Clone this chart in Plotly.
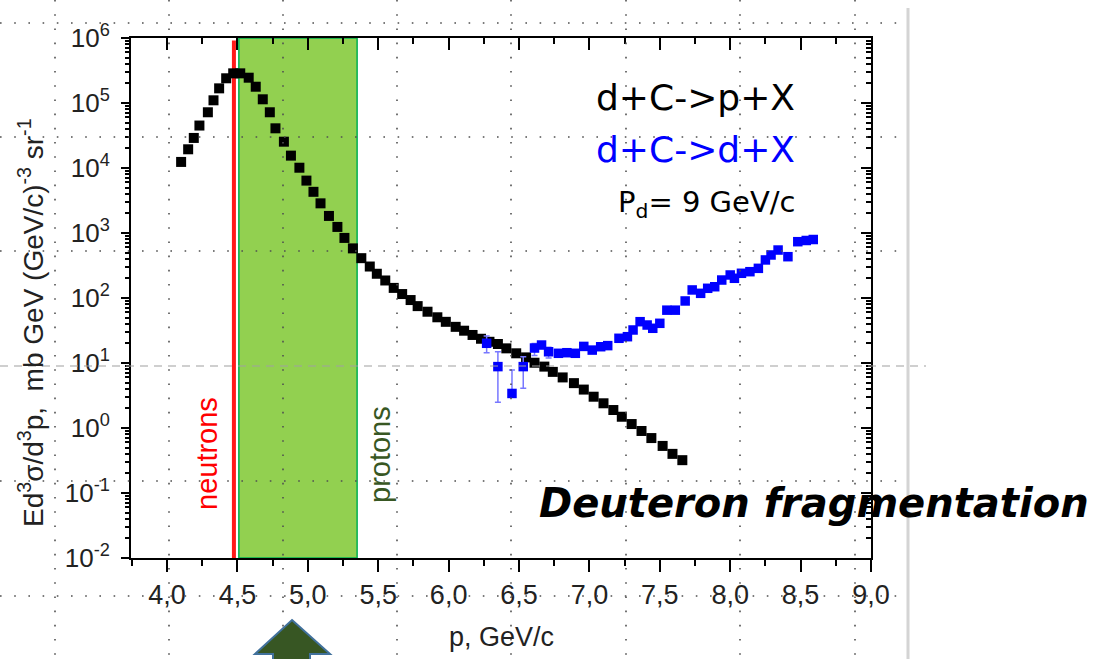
import numpy as np
import plotly.graph_objects as go

# ---------------- data ----------------
black_p = [4.10, 4.15, 4.19, 4.23, 4.29, 4.33, 4.37, 4.42, 4.47, 4.52, 4.58, 4.63, 4.68,
           4.73, 4.77, 4.83, 4.88, 4.94, 4.99, 5.04, 5.09, 5.15, 5.21, 5.26, 5.32, 5.38,
           5.44, 5.49, 5.55, 5.61, 5.67, 5.73, 5.78, 5.85, 5.92, 5.98, 6.05, 6.11, 6.17,
           6.23, 6.29, 6.35, 6.41, 6.48, 6.55, 6.61, 6.68, 6.74, 6.81, 6.89, 6.96, 7.03,
           7.10, 7.17, 7.23, 7.30, 7.37, 7.44, 7.52, 7.59, 7.66]
black_y = [1.24e4, 1.94e4, 2.9e4, 4.5e4, 7.2e4, 1.10e5, 1.68e5, 2.4e5, 2.86e5, 2.86e5,
           2.45e5, 1.78e5, 1.14e5, 7.2e4, 4.08e4, 2.54e4, 1.55e4, 1.01e4, 6.4e3, 4.3e3,
           2.86e3, 1.83e3, 1.24e3, 840, 580, 410, 305, 236, 186, 143, 115, 93, 75, 61.5,
           50.5, 43, 36, 31.4, 27, 23.6, 21.2, 19.6, 16.8, 14.1, 12.2, 10.1, 8.8, 7.3, 6.0,
           4.9, 3.9, 3.03, 2.40, 1.89, 1.49, 1.15, 0.90, 0.70, 0.53, 0.40, 0.32]

blue_p = [6.27, 6.35, 6.45, 6.53, 6.61, 6.66, 6.71, 6.78, 6.84, 6.90, 6.96, 7.02, 7.08,
          7.13, 7.21, 7.27, 7.31, 7.36, 7.41, 7.45, 7.50, 7.55, 7.61, 7.68, 7.73, 7.79,
          7.84, 7.89, 7.94, 8.00, 8.03, 8.08, 8.14, 8.20, 8.25, 8.29, 8.34, 8.41, 8.48,
          8.54, 8.59]
blue_y = [20.1, 8.8, 3.4, 8.8, 17.0, 18.9, 14.9, 14.1, 14.4, 14.1, 18.0, 15.8, 17.8, 18.5,
          24, 25.4, 32.2, 43.2, 38.4, 34.2, 40.8, 65, 65, 90, 133, 118, 141, 149, 189, 226,
          201, 240, 254, 286, 385, 459, 547, 432, 735, 767, 794]
blue_err_plus = [6.0, 6.1, 4.4, 3.7, 3.0, 0, 2.5] + [0] * 34
blue_err_minus = [5.7, 6.3, 0.4, 4.7, 4.0, 0, 3.0] + [0] * 34

neutron_p = 4.475
proton_band = [4.51, 5.35]

x_ticks = [4.0, 4.5, 5.0, 5.5, 6.0, 6.5, 7.0, 7.5, 8.0, 8.5, 9.0]
x_tick_labels = ["4,0", "4,5", "5,0", "5,5", "6,0", "6,5", "7,0", "7,5", "8,0", "8,5", "9,0"]
y_exponents = [-2, -1, 0, 1, 2, 3, 4, 5, 6]
y_ticks = [10.0 ** e for e in y_exponents]
y_tick_labels = ["10<sup>%d</sup>" % e for e in y_exponents]
y_minor = [m * 10.0 ** e for e in range(-2, 6) for m in range(2, 10)]

# ---------------- layout geometry (pixels) ----------------
W, H = 1099, 659
PL, PR, PT, PB = 131, 871, 38, 558


def px(x):
    return (x - PL) / (PR - PL)


def py(y):
    return (PB - y) / (PB - PT)


fig = go.Figure()

fig.add_trace(go.Scatter(
    x=black_p, y=black_y, mode="markers", name="d+C->p+X",
    marker=dict(symbol="square", size=10, color="black"), showlegend=False))

fig.add_trace(go.Scatter(
    x=blue_p, y=blue_y, mode="markers", name="d+C->d+X",
    marker=dict(symbol="square", size=9.5, color="#0000ff"),
    error_y=dict(type="data", symmetric=False, array=blue_err_plus,
                 arrayminus=blue_err_minus, color="#7878ff", thickness=1.5, width=3),
    showlegend=False))

# empty trace so that the mirrored (inside-tick) axes get drawn
fig.add_trace(go.Scatter(x=[], y=[], xaxis="x2", yaxis="y2", showlegend=False,
                         hoverinfo="skip"))

shapes = []
# proton band and neutron line
shapes.append(dict(type="rect", xref="x", yref="paper", x0=proton_band[0], x1=proton_band[1],
                   y0=0, y1=1, fillcolor="#92d050", line=dict(color="#00b050", width=1.5),
                   layer="below"))
shapes.append(dict(type="line", xref="x", yref="paper", x0=neutron_p, x1=neutron_p,
                   y0=0, y1=0.995, line=dict(color="#ff1a1a", width=4), layer="below"))

# slide guide grid (dotted)
dot = dict(color="#505050", width=1.6, dash="1.6px,12.6px")
for gx in [55, 169, 283, 397, 511, 626, 740, 855]:
    shapes.append(dict(type="line", xref="paper", yref="paper", x0=px(gx), x1=px(gx),
                       y0=py(0), y1=py(H), line=dot, layer="above"))
for gy in [23, 137, 251, 481, 596]:
    shapes.append(dict(type="line", xref="paper", yref="paper", x0=px(0), x1=px(902),
                       y0=py(gy), y1=py(gy), line=dot, layer="above"))
shapes.append(dict(type="line", xref="paper", yref="paper", x0=px(0), x1=px(926),
                   y0=py(366), y1=py(366),
                   line=dict(color="#a0a0a0", width=1.2, dash="8px,6px"), layer="above"))
# slide edge
shapes.append(dict(type="line", xref="paper", yref="paper", x0=px(908), x1=px(908),
                   y0=py(8), y1=py(H), line=dict(color="#d4d4d4", width=3), layer="above"))
# arrow
pts = [(292, 620), (330, 654), (310, 654), (310, 664), (273, 664), (273, 654), (255, 654)]
path = "M " + " L ".join("%.5f,%.5f" % (px(a), py(b)) for a, b in pts) + " Z"
shapes.append(dict(type="path", xref="paper", yref="paper", path=path,
                   fillcolor="#375623", line=dict(color="#41719c", width=2), layer="above"))

ann = []
ann.append(dict(text="d+C->p+X", x=px(797), y=py(97), xanchor="right", yanchor="middle",
                font=dict(family="DejaVu Sans", size=36, color="black")))
ann.append(dict(text="d+C->d+X", x=px(797), y=py(149), xanchor="right", yanchor="middle",
                font=dict(family="DejaVu Sans", size=36, color="#0000ff")))
ann.append(dict(text="P<sub>d</sub>= 9 GeV/c", x=px(797), y=py(204), xanchor="right",
                yanchor="middle", font=dict(family="DejaVu Sans", size=29, color="black")))
ann.append(dict(text="<b><i>Deuteron fragmentation</i></b>", x=px(537), y=py(503),
                xanchor="left", yanchor="middle",
                font=dict(family="DejaVu Sans", size=40, color="black")))
ann.append(dict(text="neutrons", x=px(207), y=py(454), xanchor="center", yanchor="middle",
                textangle=-90, font=dict(family="Liberation Sans", size=29, color="#ff0000")))
ann.append(dict(text="protons", x=px(380), y=py(455), xanchor="center", yanchor="middle",
                textangle=-90, font=dict(family="Liberation Sans", size=29, color="#385723")))
ann.append(dict(text="p, GeV/c", x=px(501), y=py(637), xanchor="center", yanchor="middle",
                font=dict(family="Liberation Sans", size=27, color="#222222")))
ann.append(dict(text="Ed<sup>3</sup>σ/d<sup>3</sup>p,  mb GeV (GeV/c)<sup>-3</sup> sr<sup>-1</sup>",
                x=px(31), y=py(323), xanchor="center", yanchor="middle", textangle=-90,
                font=dict(family="Liberation Sans", size=28, color="#222222")))
for a in ann:
    a.update(xref="paper", yref="paper", showarrow=False)

xtickfont = dict(family="Liberation Sans", size=27, color="#222222")
ytickfont = dict(family="Liberation Sans", size=26, color="#222222")
xr = [3.744, 9.0]
yr = [-2, 6]

fig.update_layout(
    width=W, height=H, autosize=False,
    margin=dict(l=PL, r=W - PR, t=PT, b=H - PB, pad=0),
    plot_bgcolor="white", paper_bgcolor="white",
    shapes=shapes, annotations=ann,
    xaxis=dict(range=xr, tickmode="array", tickvals=x_ticks, ticktext=x_tick_labels,
               ticks="outside", ticklen=12, tickwidth=2, tickcolor="black",
               showline=True, linecolor="black", linewidth=2, mirror=True,
               showgrid=False, zeroline=False, tickfont=xtickfont,
               minor=dict(tickmode="linear", tick0=3.75, dtick=0.25, ticks="outside",
                          ticklen=6, tickwidth=2, tickcolor="black", showgrid=False)),
    xaxis2=dict(range=xr, overlaying="x", side="top", anchor="y2", tickmode="array",
                tickvals=x_ticks, ticks="inside", ticklen=12, tickwidth=2, tickcolor="black",
                showticklabels=False, showgrid=False, zeroline=False, showline=False,
                minor=dict(tickmode="linear", tick0=3.75, dtick=0.25, ticks="inside",
                           ticklen=6, tickwidth=2, tickcolor="black", showgrid=False)),
    yaxis=dict(type="log", range=yr, tickmode="array", tickvals=y_ticks,
               ticktext=y_tick_labels, ticks="outside", ticklen=8, tickwidth=2,
               tickcolor="black", showline=True, linecolor="black", linewidth=2, mirror=True,
               showgrid=False, zeroline=False, tickfont=ytickfont, ticklabelstandoff=6,
               minor=dict(tickmode="array", tickvals=y_minor, ticks="outside", ticklen=4,
                          tickwidth=1.5, tickcolor="black", showgrid=False)),
    yaxis2=dict(type="log", range=yr, overlaying="y", side="right", anchor="x2",
                tickmode="array", tickvals=y_ticks, ticks="inside", ticklen=10, tickwidth=2,
                tickcolor="black", showticklabels=False, showgrid=False, zeroline=False,
                showline=False,
                minor=dict(tickmode="array", tickvals=y_minor, ticks="inside", ticklen=5,
                           tickwidth=1.5, tickcolor="black", showgrid=False)),
)

fig.write_html("out.html")
